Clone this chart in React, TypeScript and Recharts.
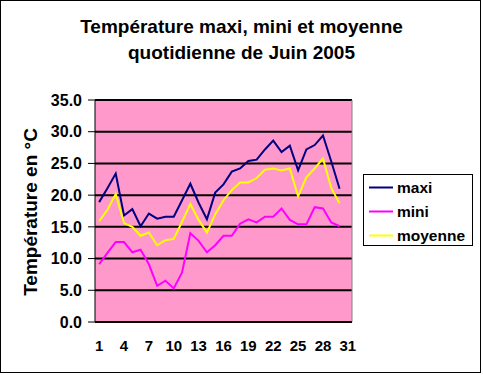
import React from 'react';
import { LineChart, Line, XAxis, YAxis, CartesianGrid, Legend, ReferenceLine } from 'recharts';

const FONT = '"Liberation Sans", Arial, sans-serif';

const days = [1, 2, 3, 4, 5, 6, 7, 8, 9, 10, 11, 12, 13, 14, 15, 16, 17, 18, 19, 20, 21, 22, 23, 24, 25, 26, 27, 28, 29, 30];
const maxi = [18.9, 21.1, 23.4, 16.8, 17.8, 15.1, 17.1, 16.3, 16.6, 16.6, 19.2, 21.8, 18.8, 16.2, 20.4, 21.7, 23.7, 24.2, 25.4, 25.6, 27.2, 28.6, 26.8, 27.8, 23.9, 27.2, 27.9, 29.4, 25.3, 21.0];
const mini = [9.1, 10.9, 12.6, 12.6, 11.0, 11.4, 9.1, 5.7, 6.5, 5.3, 7.8, 14.0, 12.8, 11.0, 12.1, 13.6, 13.6, 15.5, 16.2, 15.7, 16.6, 16.6, 17.9, 16.1, 15.4, 15.4, 18.1, 17.9, 15.7, 15.1];
const moyenne = [15.9, 17.7, 20.2, 15.6, 15.0, 13.6, 14.1, 12.1, 12.9, 13.1, 15.8, 18.6, 16.1, 14.1, 17.0, 19.2, 20.8, 22.0, 22.0, 22.7, 24.0, 24.2, 23.9, 24.2, 19.8, 22.8, 24.2, 25.8, 21.1, 18.7];

const xLabelTicks = [1, 4, 7, 10, 13, 16, 19, 22, 25, 28, 31];
const xBoundaryTicks = [0.5, 1.5, 2.5, 3.5, 4.5, 5.5, 6.5, 7.5, 8.5, 9.5, 10.5, 11.5, 12.5, 13.5, 14.5, 15.5, 16.5, 17.5, 18.5, 19.5, 20.5, 21.5, 22.5, 23.5, 24.5, 25.5, 26.5, 27.5, 28.5, 29.5, 30.5, 31.5];
const yTicks = [0, 5, 10, 15, 20, 25, 30, 35];

const titleLines = ['Température maxi, mini et moyenne', 'quotidienne de Juin 2005'];
const yTitle = 'Température en °C';

const series = [
  { key: 'maxi', name: 'maxi', color: '#000080' },
  { key: 'mini', name: 'mini', color: '#FF00FF' },
  { key: 'moyenne', name: 'moyenne', color: '#FFFF00' },
];

const data = days.map((d, i) => ({ day: d, maxi: maxi[i], mini: mini[i], moyenne: moyenne[i] }));

const LegendBox = () => (
  <div style={{ width: 110, height: 72, boxSizing: 'border-box', border: '1px solid #000', background: '#fff' }}>
    <svg width={108} height={70} style={{ display: 'block' }}>
      {series.map((s, i) => (
        <g key={s.key}>
          <line x1={5} x2={29} y1={12.5 + i * 24} y2={12.5 + i * 24} stroke={s.color} strokeWidth={2} />
          <text x={33} y={18 + i * 24} fontFamily={FONT} fontWeight="bold" fontSize={15.5} fill="#000">{s.name}</text>
        </g>
      ))}
    </svg>
  </div>
);

export default function App() {
  return (
    <div style={{ position: 'absolute', left: 0, top: 0, width: 483, height: 375, background: '#fff' }}>
      <LineChart width={483} height={375} data={data} margin={{ top: 100, right: 131, left: 0, bottom: 0 }}>
        <XAxis
          xAxisId="a"
          type="number"
          dataKey="day"
          domain={[0.5, 31.5]}
          ticks={xBoundaryTicks}
          interval={0}
          height={0}
          axisLine={false}
          tickLine={{ stroke: '#000' }}
          tickSize={4}
          tickFormatter={() => ''}
        />
        <XAxis
          xAxisId="b"
          type="number"
          dataKey="day"
          domain={[0.5, 31.5]}
          ticks={xLabelTicks}
          interval={0}
          height={53}
          axisLine={{ stroke: '#000', strokeWidth: 1 }}
          tickLine={false}
          tickSize={0}
          tickMargin={18}
          tick={{ fill: '#000', fontSize: 15, fontWeight: 'bold', fontFamily: FONT }}
        />
        <YAxis
          type="number"
          domain={[0, 35]}
          ticks={yTicks}
          interval={0}
          width={95}
          axisLine={{ stroke: '#000', strokeWidth: 1 }}
          tickLine={{ stroke: '#000' }}
          tickSize={7}
          tickMargin={6}
          tickFormatter={(v: number) => v.toFixed(1)}
          tick={{ fill: '#000', fontSize: 16, fontWeight: 'bold', fontFamily: FONT }}
        />
        <CartesianGrid xAxisId="b" vertical={false} stroke="#000" strokeWidth={2} fill="#FF99CC" fillOpacity={1} />
        <ReferenceLine xAxisId="b" x={31.5} stroke="#808080" strokeWidth={1} />
        {series.map((s) => (
          <Line
            key={s.key}
            xAxisId="b"
            type="linear"
            dataKey={s.key}
            name={s.name}
            stroke={s.color}
            strokeWidth={2}
            dot={false}
            activeDot={false}
            isAnimationActive={false}
          />
        ))}
        <Legend
          layout="horizontal"
          align="center"
          verticalAlign="middle"
          content={() => <LegendBox />}
          wrapperStyle={{ left: 363, top: 174, width: 110, height: 72 }}
        />
      </LineChart>
      <svg width={483} height={375} style={{ position: 'absolute', left: 0, top: 0, pointerEvents: 'none' }}>
        <text x={241.5} y={33} textAnchor="middle" fontFamily={FONT} fontWeight="bold" fontSize={19} fill="#000">{titleLines[0]}</text>
        <text x={241.5} y={59} textAnchor="middle" fontFamily={FONT} fontWeight="bold" fontSize={19} fill="#000">{titleLines[1]}</text>
        <text transform="translate(37,212) rotate(-90)" textAnchor="middle" fontFamily={FONT} fontWeight="bold" fontSize={19} fill="#000">{yTitle}</text>
        <rect x={0.5} y={0.5} width={480} height={372} fill="none" stroke="#000" strokeWidth={1} />
      </svg>
    </div>
  );
}
